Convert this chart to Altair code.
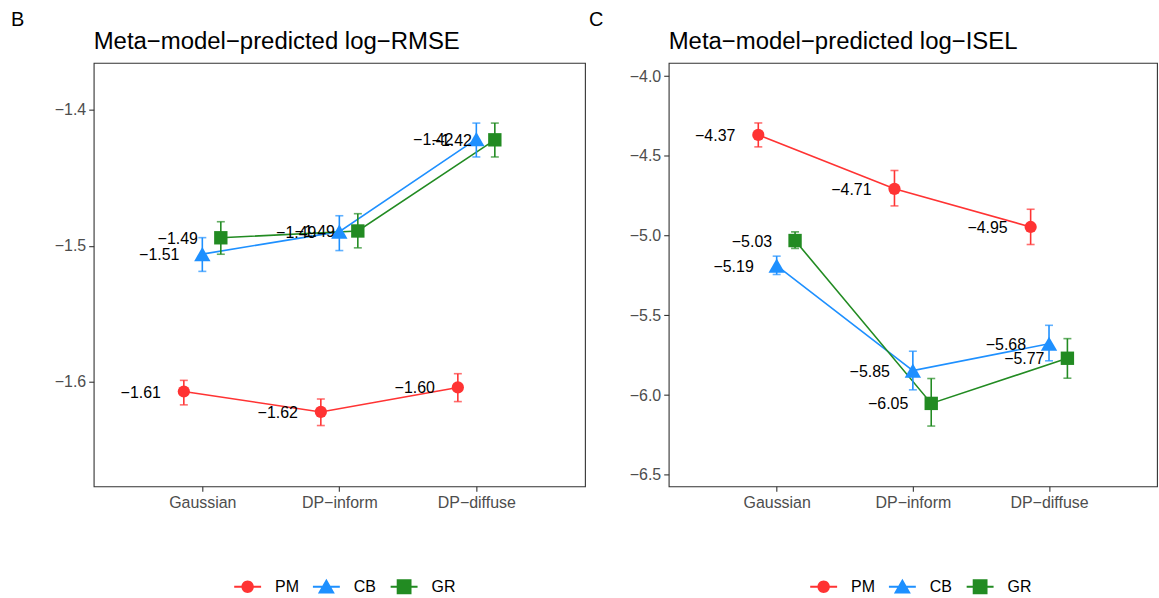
import json

import altair as alt
import pandas as pd

# Categories
priors = ["Gaussian", "DP−inform", "DP−diffuse"]
methods = ["PM", "CB", "GR"]
panel_letters = ["B", "C"]
titles = ["Meta−model−predicted log−RMSE", "Meta−model−predicted log−ISEL"]

# Meta-model predicted log-RMSE: estimate and interval per prior
rmse_est = {
    "PM": [-1.607, -1.622, -1.604],
    "CB": [-1.506, -1.4895, -1.4215],
    "GR": [-1.494, -1.489, -1.422],
}
rmse_lo = {
    "PM": [-1.6168, -1.6320, -1.6144],
    "CB": [-1.5187, -1.5034, -1.4346],
    "GR": [-1.5061, -1.5014, -1.4346],
}
rmse_hi = {
    "PM": [-1.5988, -1.6125, -1.5939],
    "CB": [-1.4939, -1.4778, -1.4097],
    "GR": [-1.4822, -1.4763, -1.4097],
}

# Meta-model predicted log-ISEL
isel_est = {
    "PM": [-4.369, -4.707, -4.946],
    "CB": [-5.188, -5.846, -5.678],
    "GR": [-5.031, -6.052, -5.769],
}
isel_lo = {
    "PM": [-4.444, -4.814, -5.056],
    "CB": [-5.244, -5.967, -5.785],
    "GR": [-5.080, -6.194, -5.894],
}
isel_hi = {
    "PM": [-4.294, -4.592, -4.835],
    "CB": [-5.129, -5.725, -5.5625],
    "GR": [-4.977, -5.896, -5.646],
}

# Styling
colors = ["#FF3333", "#1E90FF", "#228B22"]
shapes = ["circle", "triangle-up", "square"]
point_sizes = [150, 270, 180]
# legend keys: a line segment through the marker (unit square paths)
bar = "M-1,-0.07H1V0.07H-1Z "
legend_paths = [
    bar + "M0.46,0A0.46,0.46,0,1,1,-0.46,0A0.46,0.46,0,1,1,0.46,0Z",
    bar + "M0,-0.6L0.63,0.5L-0.63,0.5Z",
    bar + "M-0.55,-0.55H0.55V0.55H-0.55Z",
]
FONT = "Liberation Sans"
DODGE = 0.135


def make_frame(est, lo, hi):
    rows = []
    for mi, m in enumerate(methods):
        for pi, p in enumerate(priors):
            rows.append({
                "method": m, "prior": p, "mi": mi, "pi": pi + 1,
                "est": est[m][pi], "lo": lo[m][pi], "hi": hi[m][pi],
            })
    return pd.DataFrame(rows)


label_expr = json.dumps(priors, ensure_ascii=False) + "[datum.value - 1]"


def panel(df, title, letter, ydomain, yticks, width, extent, legend_x, letter_x):
    base = alt.Chart(df).transform_calculate(
        pos=f"datum.pi + (datum.mi - 1) * {DODGE}"
    )
    xscale = alt.Scale(domain=[0.207, 3.793], nice=False, zero=False)
    xaxis = alt.Axis(values=[1, 2, 3], labelExpr=label_expr, title=None)
    x = alt.X("pos:Q", scale=xscale, axis=xaxis)
    yscale = alt.Scale(domain=ydomain, nice=False, zero=False)
    yaxis = alt.Axis(values=yticks, format=".1f", title=None,
                     minExtent=extent, maxExtent=extent)
    cscale = alt.Scale(domain=methods, range=colors)
    color = alt.Color("method:N", scale=cscale)

    leg = alt.Legend(
        orient="none", legendX=legend_x, legendY=512, direction="horizontal",
        title=None, labelFont=FONT, labelFontSize=16, labelColor="black",
        symbolSize=729, symbolStrokeWidth=0, labelOffset=14,
        columnPadding=14, padding=0,
    )
    # legend keys only: no marks are drawn by this layer
    key = base.transform_filter("datum.pi < 0").mark_point(
        filled=True, opacity=1, size=729
    ).encode(
        x=x, y=alt.Y("est:Q", scale=yscale, axis=yaxis),
        color=alt.Color("method:N", scale=cscale, legend=leg),
        shape=alt.Shape("method:N",
                        scale=alt.Scale(domain=methods, range=legend_paths),
                        legend=leg),
    )

    line = base.mark_line(strokeWidth=1.6).encode(
        x=x, y=alt.Y("est:Q", scale=yscale, axis=yaxis), color=color,
        order="pi:Q",
    )
    bars = base.mark_rule(strokeWidth=1.6).encode(
        x=x, y=alt.Y("lo:Q", scale=yscale, axis=yaxis), y2="hi:Q", color=color,
    )
    caps = base.transform_fold(["lo", "hi"], as_=["end", "val"]).mark_tick(
        orient="horizontal", size=8, thickness=1.6
    ).encode(x=x, y=alt.Y("val:Q", scale=yscale, axis=yaxis), color=color)

    pts = []
    for m, s, sz in zip(methods, shapes, point_sizes):
        pts.append(
            base.transform_filter(alt.datum.method == m)
            .mark_point(filled=True, opacity=1, shape=s, size=sz)
            .encode(x=x, y=alt.Y("est:Q", scale=yscale, axis=yaxis), color=color)
        )

    labels = base.mark_text(
        align="right", baseline="middle", dx=-23, dy=1,
        fontSize=16, font=FONT, color="black",
    ).encode(
        x=x, y=alt.Y("est:Q", scale=yscale, axis=yaxis),
        text=alt.Text("est:Q", format=".2f"),
    )

    # panel tag and heading, placed above the plot frame
    head = pd.DataFrame({"letter": [letter], "title": [title]})
    tag = alt.Chart(head).mark_text(
        align="left", baseline="alphabetic", fontSize=20, font=FONT,
        color="black",
    ).encode(x=alt.value(letter_x), y=alt.value(-37), text="letter:N")
    heading = alt.Chart(head).mark_text(
        align="left", baseline="alphabetic", fontSize=24, font=FONT,
        color="black",
    ).encode(x=alt.value(0), y=alt.value(-14), text="title:N")

    return alt.layer(key, line, bars, caps, *pts, labels, tag, heading).properties(
        width=width, height=425,
    )


left = panel(make_frame(rmse_est, rmse_lo, rmse_hi), titles[0], panel_letters[0],
             [-1.6767, -1.3654], [-1.6, -1.5, -1.4], 493, 93, 141, -83)
right = panel(make_frame(isel_est, isel_lo, isel_hi), titles[1], panel_letters[1],
              [-6.572, -3.917], [-6.5, -6.0, -5.5, -5.0, -4.5, -4.0], 490, 82,
              142, -80)

chart = alt.hconcat(left, right, spacing=0).resolve_scale(
    x="independent", y="independent", color="independent", shape="independent"
).resolve_legend(color="independent", shape="independent").configure(
    padding={"left": 0, "top": 8, "right": 1, "bottom": 0},
    font=FONT,
).configure_view(
    stroke="#333333", strokeWidth=1.1,
).configure_axis(
    grid=False, domain=False, labelFont=FONT, labelFontSize=16,
    labelColor="#4d4d4d", tickColor="#333333", tickSize=5, tickWidth=1.1,
    labelPadding=3,
)

chart.save("out.html", embed_options={"renderer": "svg", "actions": False})
